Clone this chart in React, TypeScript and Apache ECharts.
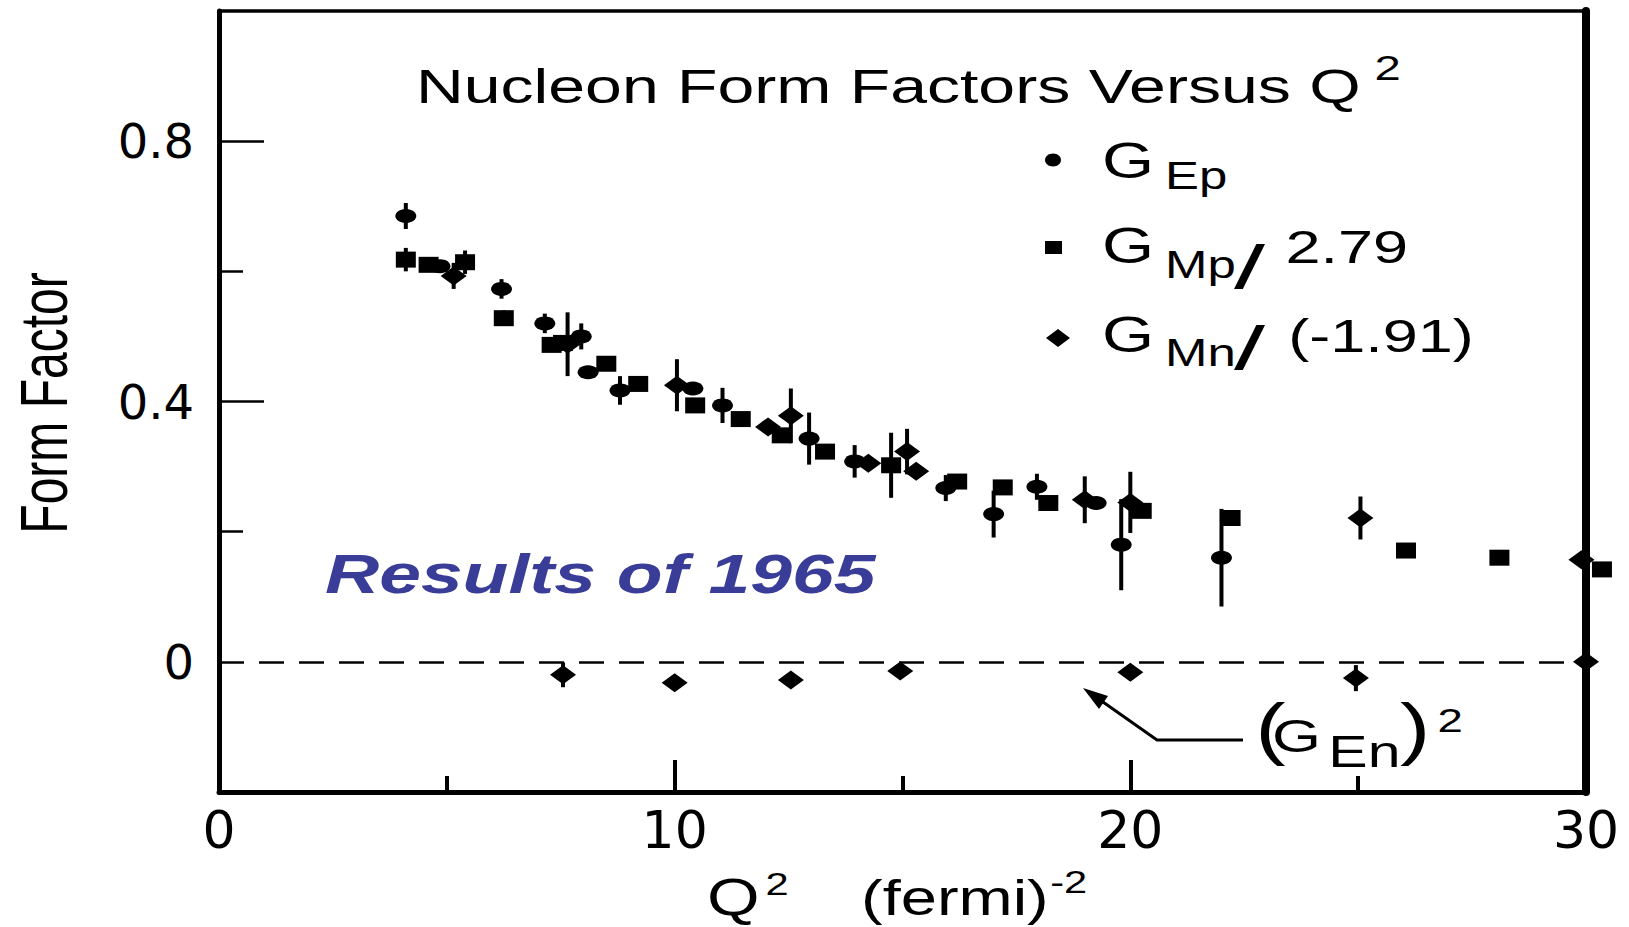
import React, { useEffect, useRef } from 'react';
import * as echarts from 'echarts';

// ---- axis ticks / labels ----
const X_LABELS = [0, 10, 20, 30];
const X_MAJOR_TICKS = [10, 20];
const X_MINOR_TICKS = [5, 15, 25];
const Y_LABELS = [0, 0.4, 0.8];
const Y_MAJOR_TICKS = [0.4, 0.8];
const Y_MINOR_TICKS = [0.2, 0.6];

// ---- G_Ep (circles) ----
const Q2_GEP = [4.1, 4.85, 6.2, 7.15, 7.95, 8.1, 8.8, 10.4, 11.05, 12.95, 13.95, 15.95, 17.0, 17.95, 19.25, 19.8, 22.0];
const GEP = [0.685, 0.608, 0.573, 0.52, 0.5, 0.445, 0.417, 0.42, 0.394, 0.343, 0.308, 0.267, 0.227, 0.269, 0.244, 0.18, 0.16];
const GEP_ERR = [0.02, 0, 0.015, 0.015, 0.02, 0, 0.022, 0, 0.027, 0.04, 0.025, 0.02, 0.036, 0.02, 0, 0.07, 0.075];

// ---- G_Mp / 2.79 (squares) ----
const Q2_GMP = [4.1, 4.6, 5.4, 6.25, 7.3, 7.55, 8.5, 9.2, 10.45, 11.45, 12.35, 13.3, 14.75, 16.2, 17.2, 18.2, 20.25, 22.2, 26.05, 28.1, 30.35];
const GMP = [0.618, 0.61, 0.614, 0.528, 0.487, 0.49, 0.458, 0.427, 0.394, 0.373, 0.348, 0.323, 0.302, 0.277, 0.268, 0.244, 0.232, 0.221, 0.171, 0.16, 0.142];
const GMP_ERR = [0.018, 0, 0.018, 0.012, 0, 0, 0, 0, 0, 0, 0, 0, 0.05, 0, 0, 0, 0, 0, 0, 0, 0];

// ---- G_Mn / (-1.91) (diamonds) ----
const Q2_GMN = [5.15, 7.65, 10.05, 12.05, 12.55, 14.25, 15.1, 15.3, 19.0, 20.0, 25.05, 29.9];
const GMN = [0.593, 0.488, 0.425, 0.361, 0.378, 0.305, 0.323, 0.293, 0.249, 0.245, 0.221, 0.157];
const GMN_ERR = [0.02, 0.049, 0.04, 0, 0.042, 0, 0.035, 0, 0.036, 0.047, 0.033, 0];

// ---- (G_En)^2 (diamonds near zero) ----
const Q2_GEN = [7.55, 10.0, 12.55, 14.95, 20.0, 24.95, 30.0];
const GEN2 = [-0.02, -0.032, -0.028, -0.014, -0.016, -0.025, 0.0];
const GEN2_ERR = [0.019, 0, 0, 0.012, 0, 0.02, 0];

const FONT = "'Liberation Sans', Arial, Helvetica, sans-serif";
const TICK_FONT = "'DejaVu Sans', 'Liberation Sans', sans-serif";

const pts = (xs: number[], ys: number[], es: number[]) => xs.map((x, i) => [x, ys[i], es[i]]);

// text positioned by its baseline (central baseline ~0.3465em above alphabetic)
const txt = (x: number, baseline: number, text: string, size: number, extra: any = {}) => ({
  type: 'text',
  x,
  y: baseline - 0.3465 * size,
  style: {
    text,
    fontSize: size,
    fontFamily: FONT,
    fill: '#000',
    textAlign: 'left',
    textVerticalAlign: 'middle',
    align: 'left',
    verticalAlign: 'middle',
    ...extra,
  },
});

export default function App() {
  const ref = useRef<HTMLDivElement>(null);

  useEffect(() => {
    const chart = echarts.init(ref.current!, null, { renderer: 'svg' });

    const scatter = (name: string, xs: number[], ys: number[], symbol: string, size: number[]) => ({
      type: 'scatter',
      name,
      data: xs.map((x, i) => [x, ys[i]]),
      symbol,
      symbolSize: size,
      itemStyle: { color: '#000', opacity: 1 },
      clip: false,
      silent: true,
      z: 5,
    });

    const errBars = (xs: number[], ys: number[], es: number[]) => ({
      type: 'custom',
      clip: false,
      silent: true,
      z: 4,
      encode: { x: 0, y: 1 },
      data: pts(xs, ys, es).filter((d) => d[2] > 0),
      renderItem: (_params: any, api: any) => {
        const x = api.value(0);
        const y = api.value(1);
        const e = api.value(2);
        const p1 = api.coord([x, y + e]);
        const p2 = api.coord([x, y - e]);
        return {
          type: 'line',
          shape: { x1: p1[0], y1: p1[1], x2: p2[0], y2: p2[1] },
          style: { stroke: '#000', lineWidth: 4 },
        };
      },
    });

    const baseX = { type: 'value', min: 0, max: 30, splitLine: { show: false } };
    const baseY = { type: 'value', min: -0.2, max: 1.0, splitLine: { show: false } };

    const option: any = {
      animation: false,
      backgroundColor: '#fff',
      grid: { left: 219, right: 43, top: 11, bottom: 135, show: false },
      xAxis: [
        {
          ...baseX,
          position: 'bottom',
          axisLine: { show: true, onZero: false, lineStyle: { color: '#000', width: 5 } },
          axisTick: { show: true, inside: true, length: 32, customValues: X_MAJOR_TICKS, lineStyle: { color: '#000', width: 4 } },
          axisLabel: { show: true, customValues: X_LABELS, margin: 12, color: '#000', fontSize: 52, fontFamily: TICK_FONT },
        },
        {
          ...baseX,
          position: 'bottom',
          axisLine: { show: false, onZero: false },
          axisTick: { show: true, inside: true, length: 16, customValues: X_MINOR_TICKS, lineStyle: { color: '#000', width: 4 } },
          axisLabel: { show: false },
        },
        {
          ...baseX,
          position: 'top',
          axisLine: { show: true, onZero: false, lineStyle: { color: '#000', width: 3.5 } },
          axisTick: { show: false },
          axisLabel: { show: false },
        },
      ],
      yAxis: [
        {
          ...baseY,
          position: 'left',
          axisLine: { show: true, onZero: false, lineStyle: { color: '#000', width: 5 } },
          axisTick: { show: true, inside: true, length: 45, customValues: Y_MAJOR_TICKS, lineStyle: { color: '#000', width: 2.5 } },
          axisLabel: { show: true, customValues: Y_LABELS, margin: 25, color: '#000', fontSize: 48, fontFamily: TICK_FONT },
        },
        {
          ...baseY,
          position: 'left',
          axisLine: { show: false, onZero: false },
          axisTick: { show: true, inside: true, length: 24, customValues: Y_MINOR_TICKS, lineStyle: { color: '#000', width: 2.5 } },
          axisLabel: { show: false },
        },
        {
          ...baseY,
          position: 'right',
          axisLine: { show: true, onZero: false, lineStyle: { color: '#000', width: 8 } },
          axisTick: { show: false },
          axisLabel: { show: false },
        },
      ],
      series: [
        {
          ...scatter('(G_En)^2', Q2_GEN, GEN2, 'diamond', [26, 19]),
          markLine: {
            silent: true,
            symbol: 'none',
            label: { show: false },
            lineStyle: { color: '#000', width: 2.5, type: [25, 15] },
            data: [{ yAxis: 0 }],
          },
        },
        errBars(Q2_GEN, GEN2, GEN2_ERR),
        scatter('G_Ep', Q2_GEP, GEP, 'circle', [21, 14]),
        errBars(Q2_GEP, GEP, GEP_ERR),
        scatter('G_Mp/2.79', Q2_GMP, GMP, 'rect', [20, 16]),
        errBars(Q2_GMP, GMP, GMP_ERR),
        scatter('G_Mn/(-1.91)', Q2_GMN, GMN, 'diamond', [26, 19]),
        errBars(Q2_GMN, GMN, GMN_ERR),
      ],
      graphic: [
        // title
        {
          type: 'group', x: 416, y: 0, scaleX: 1.35,
          children: [
            txt(0, 103, 'Nucleon Form Factors Versus Q', 49),
            txt(710, 80, '2', 35),
          ],
        },
        // legend markers
        { type: 'ellipse', shape: { cx: 1053, cy: 160, rx: 8, ry: 6.5 }, style: { fill: '#000' } },
        { type: 'rect', shape: { x: 1045, y: 241, width: 17, height: 13 }, style: { fill: '#000' } },
        { type: 'polygon', shape: { points: [[1046, 338], [1058, 329], [1070, 338], [1058, 347]] }, style: { fill: '#000' } },
        // legend texts
        {
          type: 'group', x: 1102, y: 0, scaleX: 1.34,
          children: [
            txt(0, 178, 'G', 50),
            txt(47, 189, 'Ep', 38),
            txt(0, 263, 'G', 50),
            txt(47, 278, 'Mp', 38),
            txt(137, 263, '2.79', 47),
            txt(0, 352, 'G', 50),
            txt(47, 366, 'Mn', 38),
            txt(139, 352, '(-1.91)', 47),
          ],
        },
        {
          type: 'group', x: 1234, y: 0, scaleX: 1.8,
          children: [txt(0, 288, '/', 62), txt(0, 369, '/', 62)],
        },
        // Results of 1965
        {
          type: 'group', x: 325, y: 0, scaleX: 1.34,
          children: [
            txt(0, 593, 'Results of 1965', 56, { fill: '#3a3d98', fontWeight: 'bold', fontStyle: 'italic' }),
          ],
        },
        // (G_En)^2 annotation
        {
          type: 'group', x: 1258, y: 0, scaleX: 1.34,
          children: [
            txt(-2, 752, '(', 68),
            txt(10.4, 752, 'G', 47),
            txt(52.5, 767, 'En', 44),
            txt(106, 752, ')', 68),
            txt(134, 732, '2', 34),
          ],
        },
        // arrow
        {
          type: 'polyline',
          shape: { points: [[1243, 740], [1157, 740], [1103, 702]] },
          style: { stroke: '#000', lineWidth: 3, fill: 'none' },
        },
        {
          type: 'polygon',
          shape: { points: [[1083, 688], [1108, 696], [1099, 709]] },
          style: { fill: '#000' },
        },
        // x axis name
        {
          type: 'group', x: 707, y: 0, scaleX: 1.3,
          children: [
            txt(0, 915, 'Q', 52),
            txt(45, 895, '2', 32),
            txt(118.5, 915, '(fermi)', 50),
            txt(264, 893, '-2', 32),
          ],
        },
        // y axis name
        {
          type: 'group', x: 43, y: 403, rotation: Math.PI / 2, scaleY: 1.4,
          children: [
            {
              type: 'text', x: 0, y: 0,
              style: {
                text: 'Form Factor', fontSize: 48, fontFamily: FONT, fill: '#000',
                textAlign: 'center', textVerticalAlign: 'middle', align: 'center', verticalAlign: 'middle',
              },
            },
          ],
        },
      ],
    };

    chart.setOption(option);
    return () => chart.dispose();
  }, []);

  return (
    <div
      ref={ref}
      style={{ position: 'fixed', left: 0, top: 0, width: 1629, height: 927, background: '#fff' }}
    />
  );
}
